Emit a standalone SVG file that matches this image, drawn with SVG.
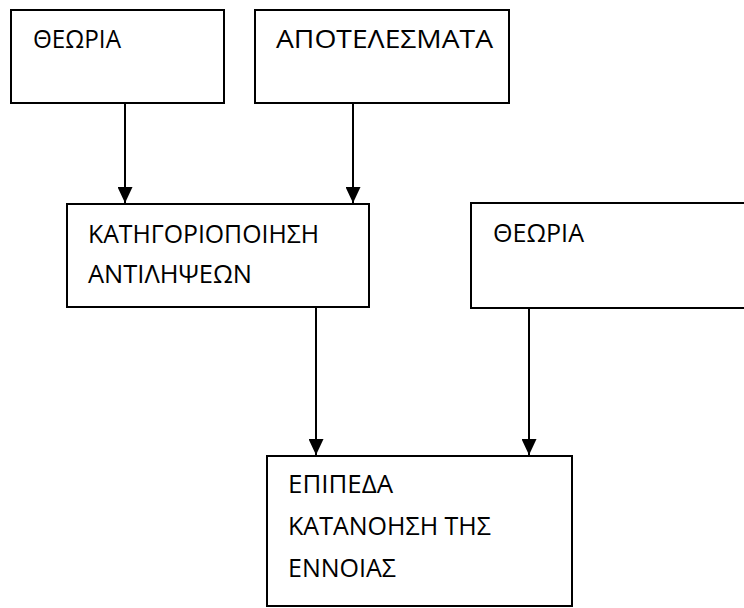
<svg xmlns="http://www.w3.org/2000/svg" width="744" height="608" viewBox="0 0 744 608">
  <style>
    .box { fill: #ffffff; stroke: #000000; stroke-width: 2; }
    .lbl { font-family: "Open Sans", "Noto Sans", "DejaVu Sans", sans-serif; font-size: 26px; fill: #000000; }
    .edge { stroke: #000000; stroke-width: 2; fill: none; marker-end: url(#arrow); }
  </style>
  <defs>
    <marker id="arrow" viewBox="0 0 16 15" refX="16" refY="7.5" markerWidth="16" markerHeight="15" markerUnits="userSpaceOnUse" orient="auto">
      <path d="M0,0 L16,7.5 L0,15 Z" fill="#000000"/>
    </marker>
  </defs>
  <rect width="744" height="608" fill="#ffffff"/>

  <g id="connectors">
    <line class="edge" x1="125" y1="103" x2="125" y2="203"/>
    <line class="edge" x1="353" y1="103" x2="353" y2="203"/>
    <line class="edge" x1="316" y1="307" x2="316" y2="455"/>
    <line class="edge" x1="529" y1="308" x2="529" y2="455"/>
  </g>

  <g id="theoria-1">
    <rect class="box" x="11" y="10" width="213" height="93"/>
    <text class="lbl" x="33" y="48" textLength="88" lengthAdjust="spacingAndGlyphs">ΘΕΩΡΙΑ</text>
  </g>

  <g id="apotelesmata">
    <rect class="box" x="255" y="10" width="254" height="93"/>
    <text class="lbl" x="276" y="48" textLength="217" lengthAdjust="spacingAndGlyphs">ΑΠΟΤΕΛΕΣΜΑΤΑ</text>
  </g>

  <g id="katigoriopoiisi">
    <rect class="box" x="67" y="204" width="302" height="103"/>
    <text class="lbl" x="88" y="243" textLength="231" lengthAdjust="spacingAndGlyphs">ΚΑΤΗΓΟΡΙΟΠΟΙΗΣΗ</text>
    <text class="lbl" x="88" y="283" textLength="164" lengthAdjust="spacingAndGlyphs">ΑΝΤΙΛΗΨΕΩΝ</text>
  </g>

  <g id="theoria-2">
    <rect class="box" x="471" y="203" width="290" height="105"/>
    <text class="lbl" x="493" y="242" textLength="91" lengthAdjust="spacingAndGlyphs">ΘΕΩΡΙΑ</text>
  </g>

  <g id="epipeda">
    <rect class="box" x="267" y="456" width="305" height="150"/>
    <text class="lbl" x="288" y="493" textLength="105" lengthAdjust="spacingAndGlyphs">ΕΠΙΠΕΔΑ</text>
    <text class="lbl" x="288" y="535" textLength="203" lengthAdjust="spacingAndGlyphs">ΚΑΤΑΝΟΗΣΗ ΤΗΣ</text>
    <text class="lbl" x="288" y="577" textLength="108" lengthAdjust="spacingAndGlyphs">ΕΝΝΟΙΑΣ</text>
  </g>
</svg>
